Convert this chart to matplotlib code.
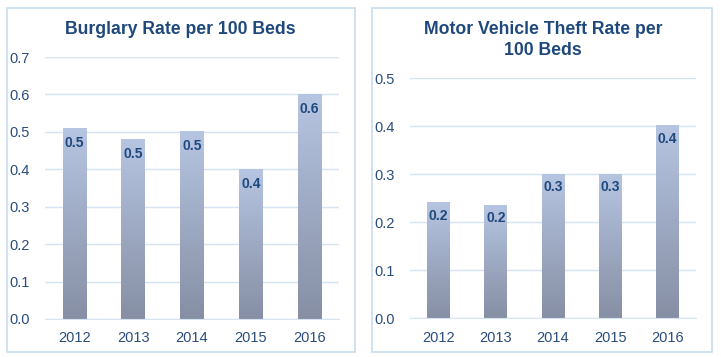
import matplotlib
matplotlib.use('Agg')
from matplotlib import pyplot as plt
from matplotlib.patches import Rectangle
from matplotlib.colors import LinearSegmentedColormap
import numpy as np

years = ['2012', '2013', '2014', '2015', '2016']
burglary = [0.51, 0.48, 0.50, 0.40, 0.60]
motor_theft = [0.24, 0.235, 0.30, 0.30, 0.40]

TXT = '#1F497D'
TICK = '#2B4D7C'
GRID = '#D5E3F3'
EDGE = '#C7DBF0'

plt.rcParams['font.family'] = ['Liberation Sans', 'DejaVu Sans']

grad = LinearSegmentedColormap.from_list('g', ['#868FA4', '#B6C5E2'])


def draw_bars(ax, vals, ymax):
    x = np.arange(len(vals))
    bars = ax.bar(x, vals, 0.4, color='none', zorder=2)
    g = np.linspace(0, 1, 256).reshape(-1, 1)
    for b, v in zip(bars, vals):
        x0 = b.get_x()
        ax.imshow(g, cmap=grad, origin='lower', aspect='auto',
                  extent=[x0, x0 + b.get_width(), 0, v], zorder=2)
        ax.text(b.get_x() + b.get_width() / 2, v - ymax * 0.055, '%.1f' % v,
                ha='center', va='center', fontsize=10, fontweight='bold',
                color=TXT, zorder=3)
    ax.set_xlim(-0.5, len(vals) - 0.5)
    ax.set_ylim(0, ymax)
    ax.set_yticks(np.arange(0, ymax + 0.001, 0.1))
    ax.set_yticklabels(['%.1f' % t for t in np.arange(0, ymax + 0.001, 0.1)])
    ax.set_xticks(x)
    ax.set_xticklabels(years)
    ax.tick_params(length=0, labelsize=10.5, colors=TICK)
    ax.tick_params(axis='y', pad=11)
    ax.tick_params(axis='x', pad=9)
    ax.yaxis.grid(True, color=GRID, linewidth=1)
    ax.set_axisbelow(True)
    for s in ax.spines.values():
        s.set_visible(False)
    ax.spines['bottom'].set_visible(True)
    ax.spines['bottom'].set_color(GRID)


W, H = 721, 357
fig = plt.figure(figsize=(W / 100, H / 100), dpi=100)

for (px0, py0, px1, py1) in [(7, 8, 355, 352), (372, 8, 712, 352)]:
    fig.patches.append(Rectangle((px0 / W, 1 - py1 / H), (px1 - px0) / W,
                                 (py1 - py0) / H, transform=fig.transFigure,
                                 fill=False, edgecolor=EDGE, linewidth=1.2))

ax1 = fig.add_axes([45 / W, 1 - 319 / H, 294 / W, 262 / H])
draw_bars(ax1, burglary, 0.7)
ax2 = fig.add_axes([410 / W, 1 - 318 / H, 286 / W, 240 / H])
draw_bars(ax2, motor_theft, 0.5)

fig.text(180 / W, 1 - 30 / H, 'Burglary Rate per 100 Beds', ha='center',
         va='center', fontsize=12.7, fontweight='bold', color=TXT)
fig.text(543 / W, 1 - 40 / H, 'Motor Vehicle Theft Rate per\n100 Beds',
         ha='center', va='center', fontsize=12.7, fontweight='bold',
         color=TXT, linespacing=1.3)

plt.savefig('out.png', dpi=100)
plt.close('all')
